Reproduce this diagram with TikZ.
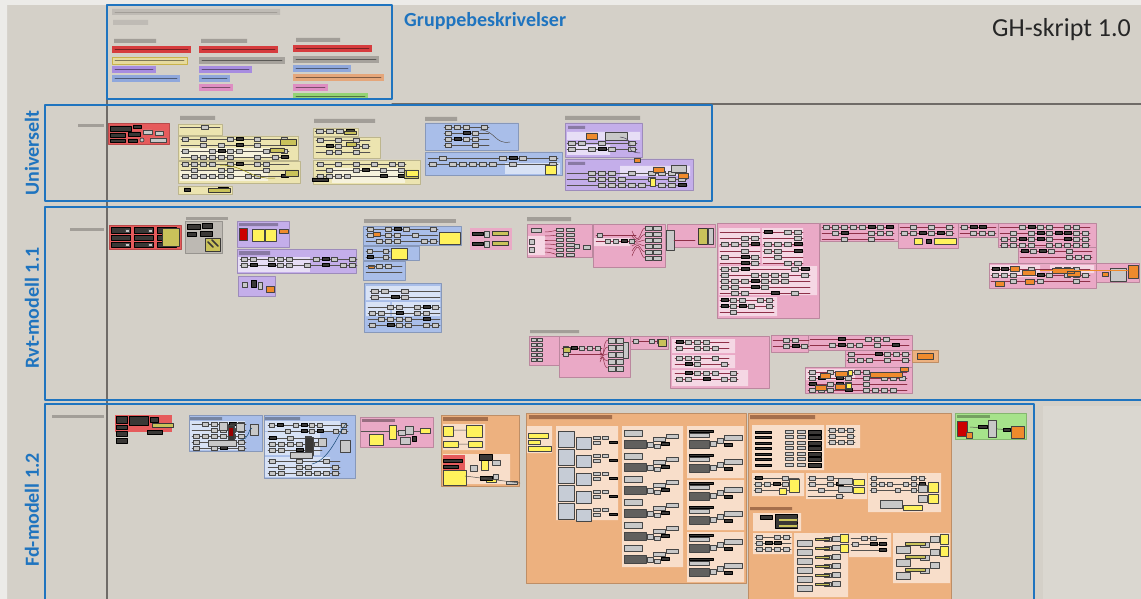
\documentclass[tikz,border=0pt]{standalone}
\usepackage{fontspec}
\setmainfont{Carlito}
\usetikzlibrary{positioning}

\definecolor{canvas}{HTML}{D4D0C8}
\definecolor{rim}{HTML}{ECEBE8}
\definecolor{canvasline}{HTML}{6F6B67}
\definecolor{frameblue}{HTML}{1F74BF}
\definecolor{titlegrey}{HTML}{A29E98}
\definecolor{titlebox}{HTML}{BFBBB5}
\definecolor{titlebrown}{HTML}{A56F4C}
\definecolor{compgrey}{HTML}{C8C8C8}
\definecolor{compbig}{HTML}{C6CCD6}
\definecolor{compedge}{HTML}{454545}
\definecolor{compdark}{HTML}{3A3836}
\definecolor{compyel}{HTML}{FFF25C}
\definecolor{comporg}{HTML}{EF8A2C}
\definecolor{panolive}{HTML}{C9C25A}
\definecolor{wiregrey}{HTML}{55524F}
\definecolor{pinkwire}{HTML}{8E3048}
\definecolor{gred}{HTML}{E65B5C}
\definecolor{gyel}{HTML}{ECE4B0}
\definecolor{gyelL}{HTML}{F6F2DC}
\definecolor{gblue}{HTML}{A9BEE9}
\definecolor{gblueL}{HTML}{D8E2F5}
\definecolor{gpur}{HTML}{C4AEEA}
\definecolor{gpurL}{HTML}{E7DEF6}
\definecolor{gpink}{HTML}{EAA9C6}
\definecolor{gpinkL}{HTML}{F5D7E4}
\definecolor{gorg}{HTML}{EDB17F}
\definecolor{gorgL}{HTML}{F8DECA}
\definecolor{ggreen}{HTML}{A6E38B}
\definecolor{ggrey}{HTML}{BDB9B3}
\definecolor{lred}{HTML}{D63C3E}
\definecolor{lyel}{HTML}{E6DA9C}
\definecolor{lyelrim}{HTML}{C9B24A}
\definecolor{lpur}{HTML}{A78CE0}
\definecolor{lblue}{HTML}{8FA7DC}
\definecolor{lgrey}{HTML}{A6A29C}
\definecolor{lpink}{HTML}{DE8DC2}
\definecolor{lorg}{HTML}{E5A67A}
\definecolor{lgreen}{HTML}{93D374}

\tikzset{
  blueframe/.style={draw=frameblue,line width=2pt},
  grp/.style={fill=#1,draw=#1!80!black,line width=.4pt},
  sub/.style={fill=#1},
  comp/.style={fill=compgrey,draw=compedge,line width=.7pt},
  bigcomp/.style={fill=compbig,draw=compedge,line width=.8pt},
  dark/.style={fill=compdark,draw=black,line width=.4pt},
  pan/.style={fill=panolive,draw=compdark,line width=.8pt},
  ybox/.style={fill=compyel,draw=compedge,line width=.8pt},
  obox/.style={fill=comporg,draw=compedge,line width=.7pt},
  wire/.style={draw=wiregrey,line width=.5pt},
  lbl/.style={text=frameblue,font=\bfseries\fontsize{20}{20}\selectfont,rotate=90,inner sep=0pt},
}

% legend bar with a line of small text in it
\newcommand\legend[4]{%
  \fill[#4] (#1,#2) rectangle (#3,#2+7);
  \draw[#4!55!black,line width=.9pt] (#1+3,#2+3.5) -- (#3-3,#2+3.5);}

% rows of components on a wire: left, top, columns, rows, cell width
\newcommand\comps[5]{%
  \foreach \row in {1,...,#4}{
    \pgfmathsetmacro\yy{#2+\row*6-3}
    \draw[wire] (#1,\yy) -- ++({#3*#5},0);
    \foreach \col in {1,...,#3}{
      \pgfmathrandominteger{\k}{0}{7}
      \pgfmathsetmacro\xx{#1+(\col-1)*#5+1}
      \ifnum\k=3 \draw[dark] (\xx,\yy-1.5) rectangle ++({#5-2},3);
      \else\ifnum\k>3 \draw[comp] (\xx,\yy-2) rectangle ++({#5-3},4);\fi\fi}}}

\begin{document}
\begin{tikzpicture}[x=1pt,y=-1pt,line join=round,line cap=round]
\pgfmathsetseed{5}
\useasboundingbox (0,0) rectangle (1141,599);
\fill[canvas] (0,0) rectangle (1141,599);
\fill[rim] (0,0) rectangle (1141,5) (0,0) rectangle (7,599);
\fill[white,opacity=.15] (1043,406) rectangle (1141,599);
\draw[canvasline,line width=1.2pt] (392,104) -- (1141,104) (107,5) -- (107,599);

%% group descriptions
\fill[titlebox] (112,9) rectangle (280,15) (113,20) rectangle (148,25);
\draw[titlegrey,line width=.8pt] (115,12) -- (277,12);
\fill[titlegrey] (114,39) rectangle (156,43) (201,39) rectangle (247,43) (296,38) rectangle (340,42);
\legend{112}{46}{191}{lred}
\legend{112}{57}{187}{lyel}
\draw[lyelrim,line width=.8pt] (112,57) rectangle (187,64);
\legend{112}{66}{156}{lpur}
\legend{112}{75}{180}{lblue}
\legend{199}{46}{278}{lred}
\legend{199}{57}{285}{lgrey}
\legend{199}{66}{252}{lpur}
\legend{199}{75}{230}{lblue}
\legend{199}{84}{233}{lpink}
\legend{293}{45}{372}{lred}
\legend{293}{56}{379}{lgrey}
\legend{293}{65}{351}{lblue}
\legend{293}{74}{384}{lorg}
\legend{293}{84}{328}{lpink}
\legend{293}{93}{368}{lgreen}

%% universelt
\fill[titlegrey] (78,124) rectangle (104,127);
\draw[grp=gred] (108,123) rectangle (169,144);
\draw[dark] (110,126) rectangle (131,131) (133,125) rectangle (141,128) (110,133) rectangle (125,137)
  (128,132) rectangle (140,136) (110,139) rectangle (125,142) (128,139) rectangle (137,142);
\draw[comp] (143,130) rectangle (152,134) (155,131) rectangle (163,135) (150,138) rectangle (166,142);
\draw[comp] (142,140) circle (2);
% yellow clusters
\fill[titlegrey] (180,116) rectangle (215,120) (314,119) rectangle (375,123);
\draw[grp=gyel] (178,124) rectangle (222,135) (178,136) rectangle (298,160) (178,161) rectangle (300,183)
  (178,186) rectangle (232,194) (313,128) rectangle (358,136) (313,137) rectangle (380,158)
  (313,160) rectangle (420,184);
\fill[gyelL] (180,148) rectangle (270,158) (180,171) rectangle (268,181) (332,168) rectangle (405,183);
\comps{180}{124}{4}{1}{10}
\comps{181}{136}{12}{4}{9}
\comps{181}{161}{12}{3}{9}
\comps{315}{128}{4}{1}{10}
\comps{316}{137}{6}{3}{9}
\comps{316}{161}{10}{3}{9}
\draw[pan] (280,139) rectangle (296,145) (270,148) rectangle (284,152) (285,170) rectangle (298,176)
  (344,131) rectangle (356,134) (346,142) rectangle (356,146) (404,170) rectangle (418,178);
\draw[dark] (184,188) rectangle (190,191) (218,187) rectangle (228,190) (312,178) rectangle (328,181);
\draw[pan] (208,188) rectangle (230,192);
\draw[ybox] (406,170) rectangle (418,176);
\draw[wire,draw=olive] (220,165) .. controls (245,165) and (250,180) .. (275,178);
% blue and purple
\fill[titlegrey] (425,117) rectangle (457,121) (565,116) rectangle (640,120);
\draw[grp=gblue] (425,123) rectangle (518,150) (425,152) rectangle (562,175);
\fill[gblueL] (505,163) rectangle (560,174);
\comps{444}{124}{5}{4}{9}
\comps{428}{155}{13}{2}{10}
\draw[ybox] (545,165) rectangle (556,174);
\draw[wire] (480,130) .. controls (495,130) and (495,145) .. (510,142);
\draw[grp=gpur] (565,123) rectangle (642,157) (565,159) rectangle (693,190);
\fill[gpurL] (567,132) rectangle (640,140) (567,145) rectangle (610,155) (620,166) rectangle (690,176);
\fill[gpur!70!black] (568,126) rectangle (585,129) (568,162) rectangle (585,165);
\comps{567}{140}{7}{2}{10}
\comps{567}{170}{12}{3}{10}
\draw[obox] (586,133) rectangle (597,139) (653,167) rectangle (664,172) (678,173) rectangle (688,178)
  (634,158) rectangle (640,162);
\draw[comp] (605,132) rectangle (627,140) (671,165) rectangle (686,172);
\draw[ybox] (650,178) rectangle (655,186);
\draw[wire,draw=gpur!40!black] (620,137) .. controls (640,140) and (620,152) .. (640,153);

%% rvt-modell
\fill[titlegrey] (70,228) rectangle (104,231);
\draw[grp=gred] (109,225) rectangle (181,249);
\foreach \i in {0,1,2}{
  \draw[dark] ({111+\i*23},227) rectangle ++(19,6) ({111+\i*23},235) rectangle ++(19,5) ({111+\i*23},242) rectangle ++(19,5);
  \draw[comp] ({125+\i*23},229) rectangle ++(4,3) ({125+\i*23},243) rectangle ++(4,3);}
\draw[pan] (162,228) rectangle (179,246);
\fill[titlegrey] (186,217) rectangle (228,220);
\draw[grp=ggrey] (185,221) rectangle (222,253);
\draw[dark] (187,224) rectangle (200,229) (202,223) rectangle (212,228) (187,232) rectangle (196,236)
  (200,231) rectangle (212,236);
\draw[pan] (205,238) rectangle (220,251);
\draw[compdark,line width=1.5pt] (208,242) -- (213,247) (212,240) -- (218,246);
\draw[grp=gpur] (237,221) rectangle (289,247) (237,249) rectangle (356,273) (238,276) rectangle (275,296);
\fill[gpur!70!black] (239,223) rectangle (278,226) (239,251) rectangle (270,255);
\fill[gpurL] (238,257) rectangle (310,272);
\draw[fill=red!80!black,draw=compedge] (239,228) rectangle (247,240);
\draw[ybox] (252,229) rectangle (264,241) (265,229) rectangle (276,241);
\draw[obox] (279,229) rectangle (288,233);
\comps{240}{256}{13}{2}{9}
\draw[comp] (242,282) rectangle (247,287) (258,282) rectangle (262,289);
\draw[dark] (251,280) rectangle (256,287);
\draw[obox] (266,286) rectangle (274,292);
% blue stacks
\fill[titlegrey] (364,219) rectangle (456,223);
\draw[grp=gblue] (363,226) rectangle (461,245) (363,246) rectangle (419,260) (363,261) rectangle (405,280)
  (364,283) rectangle (441,332);
\fill[gblueL] (366,286) rectangle (440,300) (366,302) rectangle (390,316) (392,302) rectangle (440,316);
\comps{366}{226}{8}{3}{9}
\draw[ybox] (439,232) rectangle (460,244) (391,248) rectangle (407,259);
\draw[obox] (373,232) rectangle (380,236) (368,265) rectangle (374,268);
\comps{366}{248}{3}{2}{8}
\comps{366}{263}{4}{2}{9}
\comps{370}{288}{7}{2}{10}
\comps{368}{304}{8}{4}{9}
\fill[gpink] (470,228) rectangle (512,250);
\draw[dark] (472,232) rectangle (483,235) (472,242) rectangle (483,245);
\draw[comp] (484,231) rectangle (489,237) (484,241) rectangle (489,247);
\draw[pan] (492,231) rectangle (508,235) (492,241) rectangle (508,245);
% pink rows
\begin{scope}[wire/.style={draw=pinkwire,line width=.5pt}]
\fill[titlegrey] (527,217) rectangle (571,221) (530,330) rectangle (579,333);
\draw[grp=gpink] (527,224) rectangle (592,257) (593,224) rectangle (665,267) (667,224) rectangle (715,247)
  (717,223) rectangle (819,318) (820,223) rectangle (898,241) (898,223) rectangle (958,248)
  (958,223) rectangle (998,237) (998,223) rectangle (1096,247) (1018,247) rectangle (1096,263)
  (989,263) rectangle (1096,288) (1096,263) rectangle (1139,282);
\fill[gpinkL] (528,236) rectangle (545,255) (594,238) rectangle (630,246) (719,228) rectangle (760,245)
  (762,228) rectangle (803,245) (719,247) rectangle (760,264) (762,247) rectangle (803,264)
  (719,266) rectangle (817,295) (719,297) rectangle (777,316) (990,265) rectangle (1040,277)
  (1050,265) rectangle (1094,273);
\foreach \i in {0,...,5}{
  \draw[wire] (545,{232+\i*4}) .. controls (552,{232+\i*4}) and (555,{230+\i*5}) .. (560,{230+\i*5});
  \draw[comp] (556,{228+\i*5}) rectangle ++(7,3) (566,{228+\i*5}) rectangle ++(8,3);
  \draw[wire] (632,{231+\i*5}) .. controls (640,{250-\i*3}) and (640,{228+\i*6}) .. (645,{228+\i*6});
  \draw[comp] (645,{226+\i*6}) rectangle ++(7,4) (653,{226+\i*6}) rectangle ++(8,4);}
\draw[comp] (531,228) rectangle (541,232) (529,239) rectangle (534,244) (529,247) rectangle (534,252)
  (574,244) rectangle (579,248) (583,245) rectangle (590,249) (666,230) rectangle (674,250);
\comps{596}{232}{5}{2}{8}
\draw[wire] (674,240) -- (695,240);
\draw[pan] (698,228) rectangle (707,244);
\draw[comp] (708,228) rectangle (713,244);
\comps{720}{229}{4}{3}{10}
\comps{763}{229}{4}{3}{10}
\comps{720}{248}{4}{3}{10}
\comps{763}{248}{4}{3}{10}
\comps{720}{266}{9}{5}{10}
\comps{720}{297}{6}{3}{9}
\comps{822}{224}{8}{3}{9}
\comps{900}{224}{6}{2}{9}
\draw[ybox] (914,238) rectangle (922,244) (934,238) rectangle (956,244);
\draw[dark] (926,239) rectangle (931,243);
\comps{960}{224}{4}{2}{9}
\comps{1000}{224}{10}{4}{9}
\comps{1020}{248}{8}{2}{9}
\comps{991}{266}{11}{3}{9}
\draw[obox] (1010,266) rectangle (1019,271) (1022,270) rectangle (1035,275) (1052,268) rectangle (1074,273)
  (1067,271) rectangle (1080,276) (995,281) rectangle (1004,286) (1025,279) rectangle (1034,284)
  (1102,272) rectangle (1108,276) (1128,265) rectangle (1138,278);
\draw[comp] (1110,268) rectangle (1126,281);
\draw[wire,draw=comporg] (1040,270) -- (1128,270);
% second pink row
\draw[grp=gpink] (529,336) rectangle (559,365) (559,336) rectangle (630,377) (630,336) rectangle (668,349)
  (670,336) rectangle (769,388) (771,335) rectangle (808,352) (808,335) rectangle (912,350)
  (845,350) rectangle (912,367) (805,367) rectangle (912,393);
\fill[gpinkL] (672,339) rectangle (735,353) (672,355) rectangle (735,368) (672,370) rectangle (748,386)
  (806,369) rectangle (855,380);
\draw[grp=gorg] (912,350) rectangle (938,362);
\foreach \i in {0,...,4}{
  \draw[comp] (531,{338+\i*5}) rectangle ++(5,3) (537,{338+\i*5}) rectangle ++(5,3);
  \draw[wire] (600,{350+\i*3}) .. controls (605,{365-\i*4}) and (602,{340+\i*7}) .. (608,{340+\i*7});
  \draw[comp] (608,{338+\i*7}) rectangle ++(7,5) (616,{338+\i*7}) rectangle ++(7,5);}
\comps{562}{345}{5}{2}{8}
\draw[pan] (563,347) rectangle (570,352);
\draw[comp] (623,342) rectangle (628,358);
\comps{632}{338}{4}{1}{8}
\draw[pan] (658,339) rectangle (666,346);
\comps{675}{339}{6}{2}{9}
\comps{675}{355}{6}{2}{9}
\comps{675}{370}{7}{2}{9}
\comps{773}{337}{4}{2}{9}
\comps{810}{336}{11}{2}{9}
\comps{847}{351}{7}{2}{9}
\comps{808}{369}{11}{4}{9}
\draw[obox] (917,353) rectangle (933,359) (820,373) rectangle (830,378) (835,371) rectangle (847,376)
  (870,372) rectangle (902,377) (900,367) rectangle (908,371) (815,385) rectangle (826,390) (835,384) rectangle (845,389);
\draw[ybox] (848,370) rectangle (852,375) (846,383) rectangle (851,388);
\end{scope}

%% fd-modell
\fill[titlegrey] (52,415) rectangle (104,418);
\fill[gred] (115,415) rectangle (172,432);
\draw[dark] (116,416) rectangle (127,423) (129,416) rectangle (148,425) (116,425) rectangle (127,429)
  (116,431) rectangle (127,436) (116,438) rectangle (127,443) (150,417) rectangle (158,422)
  (147,430) rectangle (162,434);
\draw[pan] (152,423) rectangle (173,427);
% blue pair
\draw[grp=gblue] (189,415) rectangle (262,451) (264,415) rectangle (355,478);
\fill[gblue!70!black] (190,417) rectangle (222,420) (265,417) rectangle (300,420);
\fill[gblueL] (190,421) rectangle (245,450) (265,421) rectangle (340,431) (265,432) rectangle (320,455)
  (265,457) rectangle (330,477);
\comps{192}{421}{6}{5}{9}
\draw[comp] (219,422) rectangle (227,430) (236,423) rectangle (244,431) (208,440) rectangle (236,446)
  (250,424) rectangle (258,435);
\draw[fill=compdark,draw=compedge] (228,425) rectangle (234,440);
\fill[red!60!black] (229,428) rectangle (233,436);
\draw[wire,draw=frameblue!60!black] (240,440) .. controls (250,440) and (248,428) .. (252,428);
\comps{268}{422}{10}{2}{8}
\comps{268}{435}{6}{3}{9}
\comps{268}{458}{8}{3}{9}
\draw[fill=compdark,draw=compedge] (305,437) rectangle (313,455);
\draw[comp] (318,438) rectangle (326,446) (340,440) rectangle (350,452) (290,452) rectangle (312,458);
\draw[wire,draw=frameblue!60!black] (312,464) .. controls (330,460) and (340,430) .. (346,424);
% pink
\draw[grp=gpink] (360,417) rectangle (433,447);
\fill[gpink!65!black] (362,419) rectangle (395,422);
\draw[wire] (361,431) -- (430,431);
\draw[ybox] (389,425) rectangle (396,439) (369,434) rectangle (383,445) (420,428) rectangle (430,433);
\draw[comp] (398,430) rectangle (405,435) (400,437) rectangle (410,444) (405,426) rectangle (413,434);
\draw[dark] (412,436) rectangle (416,441);
% orange block
\draw[grp=gorg] (441,415) rectangle (519,486);
\fill[titlebrown] (443,417) rectangle (488,421);
\fill[gorgL] (443,424) rectangle (485,450) (443,454) rectangle (510,484);
\fill[gred] (443,455) rectangle (465,472);
\draw[ybox] (443,426) rectangle (453,436) (466,425) rectangle (482,437) (443,441) rectangle (458,447)
  (468,441) rectangle (482,447) (443,470) rectangle (466,485) (481,460) rectangle (488,470)
  (486,476) rectangle (496,482);
\draw[dark] (443,459) rectangle (462,462) (443,465) rectangle (458,468) (479,454) rectangle (492,460)
  (480,476) rectangle (492,480);
\draw[comp] (470,465) rectangle (477,471) (492,460) rectangle (500,465) (506,481) rectangle (517,484)
  (493,474) rectangle (498,479);
\draw[wire] (453,430) -- (466,430) (458,444) -- (468,444) (465,476) -- (520,483);
% large orange groups
\draw[grp=gorg] (526,413) rectangle (746,583) (748,413) rectangle (951,605);
\fill[titlebrown] (529,415) rectangle (612,419) (750,415) rectangle (815,419) (750,507) rectangle (792,510);
\fill[gorgL] (527,426) rectangle (552,453) (556,426) rectangle (618,520) (622,426) rectangle (683,567)
  (687,426) rectangle (744,478) (687,480) rectangle (744,530) (687,532) rectangle (744,582);
\draw[ybox] (528,433) rectangle (548,438) (528,440) rectangle (540,444) (528,446) rectangle (551,451);
\foreach \i in {0,...,4}{
  \draw[bigcomp] (558,{431+\i*18}) rectangle ++(16,16) (576,{437+\i*18}) rectangle ++(15,12);
  \draw[comp] (593,{436+\i*18}) rectangle ++(7,3) (593,{441+\i*18}) rectangle ++(7,3) (602,{436+\i*18}) rectangle ++(6,3);
  \draw[dark] (609,{441+\i*18}) rectangle ++(8,2);}
\foreach \i in {0,...,5}{
  \draw[comp] (624,{430+\i*23}) rectangle ++(18,6) (653,{437+\i*23}) rectangle ++(12,4) (666,{434+\i*23}) rectangle ++(12,4);
  \draw[fill=compdark!80,draw=compedge] (624,{440+\i*23}) rectangle ++(22,8);
  \draw[comp] (647,{442+\i*23}) rectangle ++(6,5) (654,{444+\i*23}) rectangle ++(6,4);
  \draw[dark] (661,{442+\i*23}) rectangle ++(8,3);}
\foreach \y in {428,480,532}{
  \foreach \i in {0,1}{
    \draw[dark] (689,{\y+\i*24+2}) rectangle ++(24,2);
    \draw[comp] (689,{\y+\i*24+5}) rectangle ++(20,4) (724,{\y+\i*24+7}) rectangle ++(18,5);
    \draw[fill=compdark!80,draw=compedge] (689,{\y+\i*24+12}) rectangle ++(20,8);
    \draw[comp] (710,{\y+\i*24+13}) rectangle ++(6,5) (717,{\y+\i*24+10}) rectangle ++(6,5);
    \draw[dark] (724,{\y+\i*24+15}) rectangle ++(8,3);}}
\fill[gorgL] (752,425) rectangle (824,470) (826,425) rectangle (860,448) (752,473) rectangle (804,496)
  (806,473) rectangle (867,499) (868,473) rectangle (941,512) (753,513) rectangle (801,531)
  (753,533) rectangle (792,554) (794,533) rectangle (848,597) (849,533) rectangle (891,557)
  (893,533) rectangle (950,583);
\foreach \i in {0,...,6}{
  \draw[dark] (755,{431+\i*5.5}) rectangle ++(16,2);
  \draw[comp] (785,{430+\i*5.5}) rectangle ++(8,3) (797,{430+\i*5.5}) rectangle ++(8,3);
  \draw[dark] (808,{430+\i*5.5}) rectangle ++(13,4);}
\comps{828}{427}{3}{3}{9}
\comps{754}{475}{5}{3}{9}
\draw[ybox] (789,479) rectangle (799,492) (779,488) rectangle (786,494);
\comps{808}{475}{4}{4}{9}
\draw[comp] (838,478) rectangle (852,484) (838,486) rectangle (852,492);
\draw[ybox] (853,479) rectangle (864,485) (853,487) rectangle (864,493);
\comps{870}{475}{7}{3}{8}
\draw[comp] (918,485) rectangle (927,492) (918,495) rectangle (927,502) (880,500) rectangle (902,508);
\draw[ybox] (928,482) rectangle (938,492) (928,494) rectangle (938,503) (903,505) rectangle (922,510);
\draw[dark] (760,515) rectangle (772,519) (775,514) rectangle (797,528);
\draw[pan] (778,518) rectangle (797,521) (778,524) rectangle (797,527);
\comps{755}{534}{4}{3}{9}
\foreach \i in {0,...,5}{
  \draw[comp] (797,{540+\i*9}) rectangle ++(15,6) (824,{537+\i*9}) rectangle ++(7,4) (832,{536+\i*9}) rectangle ++(8,5);
  \draw[pan] (815,{538+\i*9}) rectangle ++(14,2);}
\draw[ybox] (840,534) rectangle (848,542) (840,544) rectangle (848,552);
\comps{851}{535}{4}{3}{9}
\foreach \i in {0,1,2}{
  \draw[comp] (896,{546+\i*13}) rectangle ++(14,7) (920,{542+\i*13}) rectangle ++(9,5) (930,{536+\i*13}) rectangle ++(9,6);
  \draw[pan] (905,{542+\i*13}) rectangle ++(20,3);}
\draw[ybox] (940,534) rectangle (948,544) (940,546) rectangle (948,556);
% green group
\draw[grp=ggreen] (955,413) rectangle (1026,439);
\fill[ggreen!70!black] (957,415) rectangle (990,418);
\draw[fill=red!80!black,draw=compedge] (957,421) rectangle (967,436);
\draw[obox] (966,432) rectangle (972,438) (1011,426) rectangle (1024,438);
\draw[wire] (970,427) -- (1012,430);
\draw[dark] (978,425) rectangle (987,428) (1003,428) rectangle (1010,431);
\draw[comp] (988,420) rectangle (996,437);

%% frames and titles
\draw[blueframe] (107,5) rectangle (392,99);
\draw[blueframe] (45,105) rectangle (712,201);
\draw[blueframe] (45,207) rectangle (1150,400);
\draw[blueframe] (45,404) rectangle (1034,610);
\node[anchor=base west,text=frameblue,font=\bfseries\fontsize{20}{20}\selectfont,inner sep=0pt] (grpdesc) at (404,27) {Gruppebeskrivelser};
\node[anchor=base east,text=black!85,font=\fontsize{26}{26}\selectfont,inner sep=0pt] (ghtitle) at (1131,37) {GH-skript 1.0};
\node[lbl] (univ) at (32,153) {Universelt};
\node[lbl] (rvt) at (32,308) {Rvt-modell 1.1};
\node[lbl] (fd) at (32,510) {Fd-modell 1.2};
\end{tikzpicture}
\end{document}
